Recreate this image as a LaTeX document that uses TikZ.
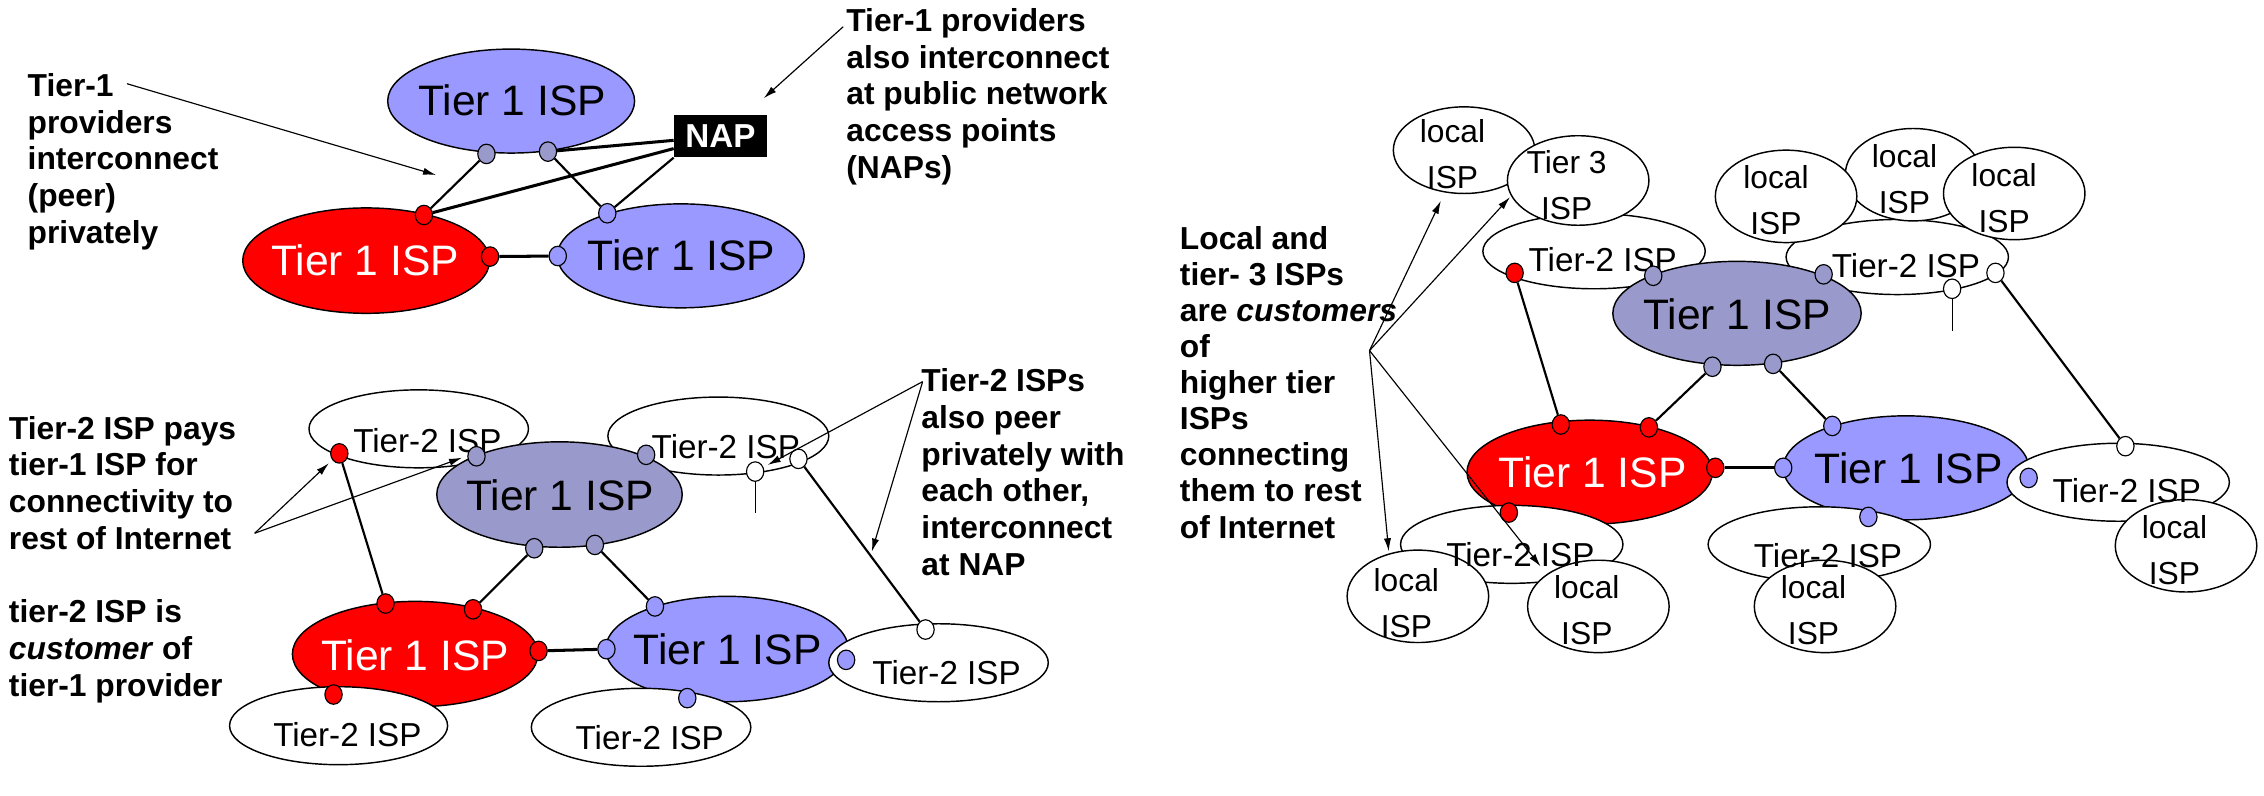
\documentclass[tikz,border=0pt]{standalone}
\usepackage{fontspec}
\setmainfont{Liberation Sans}
\usetikzlibrary{shapes.geometric,arrows.meta}
\definecolor{blueA}{RGB}{153,153,255}
\definecolor{greyA}{RGB}{153,153,204}
\tikzset{
 tone/.style={ellipse, draw, line width=1pt, inner sep=0},
 ttwo/.style={ellipse, draw, fill=white, line width=1pt, inner sep=0},
 dotx/.style={ellipse, draw, line width=0.8pt, minimum width=12pt, minimum height=13.5pt, inner sep=0},
 bigtxt/.style={font=\fontsize{29.5}{30}\selectfont, inner sep=0},
 ttxt/.style={font=\fontsize{23}{24}\selectfont, inner sep=0},
 loctxt/.style={font=\fontsize{22}{32}\selectfont, align=center, inner sep=0},
 note/.style={font=\fontsize{22}{25.5}\selectfont\bfseries, align=left, anchor=north west, inner sep=0},
 link/.style={line width=1.5pt},
 thicklink/.style={line width=2.1pt},
 stub/.style={line width=0.6pt},
 arr/.style={line width=0.8pt, -{Latex[length=9pt,width=5pt]}},
}
\begin{document}
\begin{tikzpicture}[x=1pt,y=-1pt]
\useasboundingbox (0,0) rectangle (1568,551);
\fill[white] (0,0) rectangle (1568,551);

% ================= top-left panel =================
\node[tone, fill=blueA, minimum width=171pt, minimum height=72pt] (a1) at (354,70) {};
\node[tone, fill=red, minimum width=171pt, minimum height=73pt] (a2) at (253.6,180.5) {};
\node[tone, fill=blueA, minimum width=171pt, minimum height=72pt] (a3) at (471.5,177.2) {};
\node[fill=black, minimum width=64.5pt, minimum height=29.4pt, inner sep=0, text=white, font=\fontsize{23}{24}\selectfont\bfseries] (nap) at (499,94.3) {NAP};
\node[bigtxt] (a1t) at (354.7,69.2) {Tier 1 ISP};
\node[bigtxt, text=white] (a2t) at (253,180) {Tier 1 ISP};
\node[bigtxt] (a3t) at (472,177) {Tier 1 ISP};
\node[dotx, fill=greyA] (pa1) at (336.9,106.6) {};
\node[dotx, fill=greyA] (pa2) at (379.5,105) {};
\node[dotx, fill=red] (pr1) at (293.6,148.9) {};
\node[dotx, fill=red] (pr2) at (339.4,177.7) {};
\node[dotx, fill=blueA] (pb1) at (386.3,177.3) {};
\node[dotx, fill=blueA] (pb2) at (420.6,147.7) {};
\draw[link] (pa1) -- (pr1);
\draw[link] (pa2) -- (pb2);
\draw[thicklink] (pa2) -- (nap);
\draw[thicklink] (nap) -- (pr1);
\draw[link] (nap.south west) -- (pb2);
\draw[thicklink] (pr2) -- (pb1);
\node[note] (n1) at (19,50.5) {Tier-1\\providers\\interconnect\\(peer)\\privately};
\node[note] (n2) at (586,5.5) {Tier-1 providers\\also interconnect\\at public network\\access points\\(NAPs)};
\coordinate (ca1) at (88,58);
\coordinate (ca1e) at (302,121.2);
\coordinate (ca2) at (584,18.5);
\coordinate (ca2e) at (529,68);
\draw[arr] (ca1) -- (ca1e);
\draw[arr] (ca2) -- (ca2e);

% ================= bottom-left panel =================
\node[ttwo, minimum width=152pt, minimum height=54pt] (b21) at (290,297) {};
\node[ttwo, minimum width=153pt, minimum height=54pt] (b22) at (497.5,302) {};
\node[tone, fill=greyA, minimum width=170pt, minimum height=73pt] (bg) at (387.5,342.5) {};
\node[tone, fill=red, minimum width=170pt, minimum height=73pt] (br) at (287.5,453) {};
\node[tone, fill=blueA, minimum width=168pt, minimum height=73pt] (bb) at (503.5,449.5) {};
\node[ttwo, minimum width=152pt, minimum height=54pt] (b23) at (650,459) {};
\node[ttwo, minimum width=151pt, minimum height=54pt] (b24) at (234.5,502.6) {};
\node[ttwo, minimum width=152pt, minimum height=54pt] (b25) at (444,503.7) {};
\node[ttxt] (b21t) at (296,305) {Tier-2 ISP};
\node[ttxt] (b22t) at (502.7,309) {Tier-2 ISP};
\node[ttxt] (b23t) at (655.6,466) {Tier-2 ISP};
\node[ttxt] (b24t) at (240.6,509) {Tier-2 ISP};
\node[ttxt] (b25t) at (450,510.6) {Tier-2 ISP};
\node[bigtxt] (bgt) at (388,343) {Tier 1 ISP};
\node[bigtxt, text=white] (brt) at (287.5,453.5) {Tier 1 ISP};
\node[bigtxt] (bbt) at (504,450) {Tier 1 ISP};
\node[dotx, fill=red] (d1) at (235,314) {};
\node[dotx, fill=greyA] (d2) at (330,316) {};
\node[dotx, fill=greyA] (d3) at (447.5,315) {};
\node[dotx, fill=white] (d4) at (523,326.6) {};
\node[dotx, fill=white] (d5) at (553,317.8) {};
\node[dotx, fill=greyA] (d6) at (370,379.7) {};
\node[dotx, fill=greyA] (d7) at (412,377.4) {};
\node[dotx, fill=red] (d8) at (267,418) {};
\node[dotx, fill=red] (d9) at (327.6,422) {};
\node[dotx, fill=red] (d10) at (373,450.8) {};
\node[dotx, fill=blueA] (d11) at (420,449.6) {};
\node[dotx, fill=blueA] (d12) at (453.6,420) {};
\node[dotx, fill=blueA] (d13) at (586,457) {};
\node[dotx, fill=white] (d14) at (641,436) {};
\node[dotx, fill=red] (d15) at (231,481) {};
\node[dotx, fill=blueA] (d16) at (476,483.5) {};
\coordinate (d4s) at (523,355.4);
\draw[link] (d1) -- (d8);
\draw[link] (d6) -- (d9);
\draw[link] (d7) -- (d12);
\draw[thicklink] (d10) -- (d11);
\draw[link] (d5) -- (d14);
\draw[stub] (d4) -- (d4s);
\node[note] (n3) at (6,288) {Tier-2 ISP pays\\tier-1 ISP for\\connectivity to\\rest of Internet};
\node[note] (n4) at (6,415) {tier-2 ISP is\\\textit{customer} of\\tier-1 provider};
\node[note] (n5) at (638,255) {Tier-2 ISPs\\also peer\\privately with\\each other,\\interconnect\\at NAP};
\coordinate (cb1) at (176.4,369.3);
\coordinate (cb1a) at (227.8,320.8);
\coordinate (cb1b) at (320,317);
\coordinate (cb2) at (639,264.3);
\coordinate (cb2a) at (531.7,322);
\coordinate (cb2b) at (603.8,382);
\draw[arr] (cb1) -- (cb1a);
\draw[arr] (cb1) -- (cb1b);
\draw[arr] (cb2) -- (cb2a);
\draw[arr] (cb2) -- (cb2b);

% ================= right panel =================
\node[ttwo, minimum width=154pt, minimum height=52pt] (rt1) at (1104,174) {};
\node[ttwo, minimum width=154pt, minimum height=52pt] (rt2) at (1314,178) {};
\node[ttwo, minimum width=98pt, minimum height=60pt] (l1) at (1014,104) {};
\node[ttwo, minimum width=98pt, minimum height=62pt] (t3) at (1093,125) {};
\node[ttwo, minimum width=94pt, minimum height=64pt] (lB) at (1325,121) {};
\node[ttwo, minimum width=98pt, minimum height=64pt] (lA) at (1237,136) {};
\node[ttwo, minimum width=98pt, minimum height=64pt] (lC) at (1395,134) {};
\node[tone, fill=greyA, minimum width=172pt, minimum height=72pt] (rg) at (1203,217) {};
\node[tone, fill=red, minimum width=170pt, minimum height=72pt] (rr) at (1101,327) {};
\node[tone, fill=blueA, minimum width=170pt, minimum height=72pt] (rb) at (1320,324) {};
\node[ttwo, minimum width=154pt, minimum height=54pt] (rt3) at (1467,334) {};
\node[ttwo, minimum width=154pt, minimum height=54pt] (rt4) at (1047,377) {};
\node[ttwo, minimum width=154pt, minimum height=52pt] (rt5) at (1260,377) {};
\node[ttwo, minimum width=98pt, minimum height=64pt] (lR) at (1514,378) {};
\node[ttwo, minimum width=98pt, minimum height=64pt] (lb1) at (982,413) {};
\node[ttwo, minimum width=98pt, minimum height=64pt] (lb2) at (1107,420) {};
\node[ttwo, minimum width=98pt, minimum height=64pt] (lb3) at (1264,420) {};
\node[ttxt] (rt1t) at (1110,180) {Tier-2 ISP};
\node[ttxt] (rt2t) at (1320,184) {Tier-2 ISP};
\node[ttxt] (rt3t) at (1473,340) {Tier-2 ISP};
\node[ttxt] (rt4t) at (1053,384) {Tier-2 ISP};
\node[ttxt] (rt5t) at (1266,385) {Tier-2 ISP};
\node[bigtxt] (rgt) at (1203,218) {Tier 1 ISP};
\node[bigtxt, text=white] (rrt) at (1103,327) {Tier 1 ISP};
\node[bigtxt] (rbt) at (1322,324) {Tier 1 ISP};
\node[loctxt] (l1t) at (1006,107) {local\\ISP};
\node[loctxt] (t3t) at (1085,128) {Tier 3\\ISP};
\node[loctxt] (lAt) at (1230,138.5) {local\\ISP};
\node[loctxt] (lBt) at (1319,124) {local\\ISP};
\node[loctxt] (lCt) at (1388,137) {local\\ISP};
\node[loctxt] (lRt) at (1506,381) {local\\ISP};
\node[loctxt] (lb1t) at (974,417.5) {local\\ISP};
\node[loctxt] (lb2t) at (1099,422.5) {local\\ISP};
\node[loctxt] (lb3t) at (1256,422.5) {local\\ISP};
\node[dotx, fill=red] (e1) at (1049,189) {};
\node[dotx, fill=greyA] (e2) at (1145,191) {};
\node[dotx, fill=greyA] (e3) at (1263,190) {};
\node[dotx, fill=white] (e4) at (1352,200) {};
\node[dotx, fill=white] (e5) at (1382,189) {};
\node[dotx, fill=greyA] (e6) at (1186,254) {};
\node[dotx, fill=greyA] (e7) at (1228,252) {};
\node[dotx, fill=red] (e8) at (1081,294) {};
\node[dotx, fill=red] (e9) at (1142,296) {};
\node[dotx, fill=red] (e10) at (1188,324) {};
\node[dotx, fill=blueA] (e11) at (1235,324) {};
\node[dotx, fill=blueA] (e12) at (1269,295) {};
\node[dotx, fill=blueA] (e13) at (1405,331) {};
\node[dotx, fill=white] (e14) at (1472,309) {};
\node[dotx, fill=red] (e15) at (1045,355) {};
\node[dotx, fill=blueA] (e16) at (1294,358) {};
\coordinate (e4s) at (1352,229);
\draw[link] (e1) -- (e8);
\draw[link] (e6) -- (e9);
\draw[link] (e7) -- (e12);
\draw[thicklink] (e10) -- (e11);
\draw[link] (e5) -- (e14);
\draw[stub] (e4) -- (e4s);
\node[note, font=\fontsize{22}{25}\selectfont\bfseries] (n6) at (817,156.5) {Local and\\tier- 3 ISPs\\are \textit{customers}\\of\\higher tier\\ISPs\\connecting\\them to rest\\of Internet};
\coordinate (hub) at (948.5,242.8);
\coordinate (hA) at (997.9,139.1);
\coordinate (hB) at (1045.8,136.5);
\coordinate (hC) at (961.8,381.8);
\coordinate (hD) at (1067,392.3);
\draw[arr] (hub) -- (hA);
\draw[arr] (hub) -- (hB);
\draw[arr] (hub) -- (hC);
\draw[arr] (hub) -- (hD);
\end{tikzpicture}
\end{document}
